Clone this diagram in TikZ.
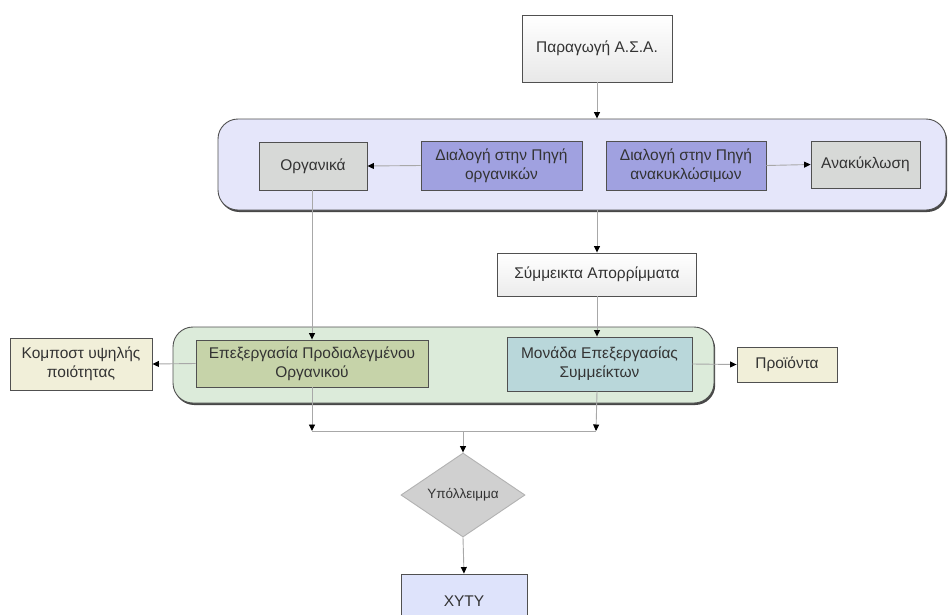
\documentclass[tikz,border=0pt]{standalone}
\usepackage{fontspec}
\setmainfont{Liberation Sans}
\usetikzlibrary{arrows.meta,shapes.geometric,shadows}

\definecolor{panelblue}{HTML}{E5E6FA}
\definecolor{panelgreen}{HTML}{DCEBDA}
\definecolor{sortfill}{HTML}{A0A1E0}
\definecolor{greyfill}{HTML}{D7D9D7}
\definecolor{olivefill}{HTML}{C6D3A9}
\definecolor{tealfill}{HTML}{B9D7DA}
\definecolor{creamfill}{HTML}{F1EFD9}
\definecolor{diamfill}{HTML}{D0D0D0}
\definecolor{xytyfill}{HTML}{DEE3FB}
\definecolor{edge}{HTML}{505050}
\definecolor{wire}{HTML}{A8A8A8}
\definecolor{ink}{HTML}{333333}

\tikzset{
  box/.style={draw=edge, line width=0.9pt, inner sep=0pt, align=center,
    text=ink, font=\fontsize{15.5}{19}\selectfont,
    drop shadow={shadow xshift=0.8pt, shadow yshift=-1pt, fill=black!55, opacity=0.6}},
  panel/.style={draw=edge, line width=0.9pt, rounded corners=20pt, inner sep=0pt,
    drop shadow={shadow xshift=1.2pt, shadow yshift=-2pt, fill=black!80, opacity=0.9}},
  conn/.style={draw=wire, line width=0.9pt,
    -{Triangle[length=6.5pt,width=6pt,color=black]}},
  plainwire/.style={draw=wire, line width=0.9pt},
}

\begin{document}
\begin{tikzpicture}[x=1pt,y=-1pt]
\clip (0,0) rectangle (948,614);
\fill[white] (0,0) rectangle (948,614);

% source-separation band and processing band
\node[panel, fill=panelblue, minimum width=728pt, minimum height=91pt] (bpanel) at (582,164.5) {};
\node[panel, fill=panelgreen, minimum width=541pt, minimum height=76pt] (gpanel) at (443.5,365) {};

% top of the flow
\node[box, top color=white, bottom color=gray!18, minimum width=150pt, minimum height=67pt] (asa) at (597,48.5) {Παραγωγή Α.Σ.Α.};

% source separation
\node[box, fill=greyfill, minimum width=108pt, minimum height=48pt] (org) at (313,166) {Οργανικά};
\node[box, fill=sortfill, minimum width=161pt, minimum height=49pt] (dorg) at (501.5,165.5) {Διαλογή στην Πηγή\\οργανικών};
\node[box, fill=sortfill, minimum width=160pt, minimum height=49pt] (drec) at (686,165.5) {Διαλογή στην Πηγή\\ανακυκλώσιμων};
\node[box, fill=greyfill, minimum width=109pt, minimum height=47pt] (rec) at (865.5,164.5) {Ανακύκλωση};

% mixed waste
\node[box, top color=white, bottom color=gray!15, minimum width=199pt, minimum height=43pt] (sm) at (597,274.5) {Σύμμεικτα Απορρίμματα};

% processing
\node[box, fill=olivefill, minimum width=232pt, minimum height=47pt] (epx) at (312,363.5) {Επεξεργασία Προδιαλεγμένου\\Οργανικού};
\node[box, fill=tealfill, minimum width=185pt, minimum height=54pt] (mon) at (599.5,364) {Μονάδα Επεξεργασίας\\Συμμείκτων};
\node[box, fill=creamfill, minimum width=142pt, minimum height=52pt] (komp) at (81,364) {Κομποστ υψηλής\\ποιότητας};
\node[box, fill=creamfill, minimum width=100pt, minimum height=35pt] (proi) at (787,364.5) {Προϊόντα};

% residue and landfill
\node[diamond, draw=gray!60, line width=0.9pt, fill=diamfill, aspect=1.5, inner sep=0pt,
  minimum width=124pt, minimum height=84pt, text=ink, font=\fontsize{13.5}{16}\selectfont] (diam) at (463,495) {Υπόλλειμμα};
\node[box, fill=xytyfill, minimum width=126pt, minimum height=54pt] (xyty) at (464,601) {ΧΥΤΥ};

% connectors
\coordinate (jl) at (312,431);
\coordinate (jr) at (596,431);

\draw[conn] (asa.south) -- (asa.south |- bpanel.north);
\draw[conn] (dorg.west) -- (org.east);
\draw[conn] (drec.east) -- (rec.west);
\draw[conn] (org.south -| epx.north) -- (epx.north);
\draw[conn] (asa.south |- bpanel.south) -- (sm.north);
\draw[conn] (sm.south) -- (sm.south |- mon.north);
\draw[conn] (epx.west) -- (komp.east);
\draw[conn] (mon.east) -- (proi.west);
\draw[conn] (epx.south) -- (jl);
\draw[conn] (sm.south |- mon.south) -- (jr);
\draw[plainwire] (jl) -- (jr);
\draw[conn] (jl -| diam.north) -- (diam.north);
\draw[conn] (diam.south) -- (xyty.north);
\end{tikzpicture}
\end{document}
